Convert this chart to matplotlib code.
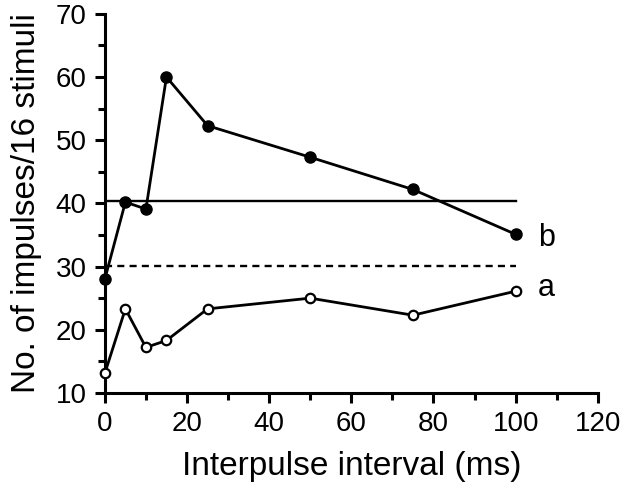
import matplotlib
matplotlib.use("Agg")
import matplotlib.pyplot as plt
from matplotlib.ticker import MultipleLocator

# interpulse interval (ms)
intervals = [0, 5, 10, 15, 25, 50, 75, 100]
# curve b (filled circles) and curve a (open circles)
series_b = [28, 40.2, 39.1, 60, 52.3, 47.3, 42.2, 35.1]
series_a = [13.1, 23.3, 17.2, 18.3, 23.3, 25, 22.3, 26.1]
# reference levels
level_solid = 40.3
level_dashed = 30.1
level_span = [0, 100]

plt.rcParams['font.family'] = ['Liberation Sans', 'DejaVu Sans']

fig = plt.figure(figsize=(6.24, 4.93), dpi=100)
ax = fig.add_axes([0.168, 0.203, 0.79, 0.769])

ax.plot(level_span, [level_solid, level_solid], color='black', lw=1.7)
ax.plot(level_span, [level_dashed, level_dashed], color='black', lw=1.7,
        dashes=(3, 2.2))

ax.plot(intervals, series_b, color='black', lw=2, marker='o', ms=8,
        mfc='black', mec='black', clip_on=False, zorder=3)
ax.plot(intervals, series_a, color='black', lw=2, marker='o', ms=6.8,
        mfc='white', mec='black', mew=1.6, clip_on=False, zorder=3)

ax.text(107.5, 34.5, 'b', fontsize=22, va='center', ha='center')
ax.text(107.5, 26.6, 'a', fontsize=22, va='center', ha='center')

ax.set_xlim(0, 120)
ax.set_ylim(10, 70)
ax.xaxis.set_major_locator(MultipleLocator(20))
ax.xaxis.set_minor_locator(MultipleLocator(10))
ax.yaxis.set_major_locator(MultipleLocator(10))
ax.yaxis.set_minor_locator(MultipleLocator(5))

for s in ['top', 'right']:
    ax.spines[s].set_visible(False)
for s in ['left', 'bottom']:
    ax.spines[s].set_linewidth(2.2)

ax.tick_params(which='major', direction='out', length=7, width=2.2,
               labelsize=20, pad=6)
ax.tick_params(which='minor', direction='out', length=5, width=2.2)

ax.set_xlabel('Interpulse interval (ms)', fontsize=24, labelpad=10)
ax.set_ylabel('No. of impulses/16 stimuli', fontsize=24, labelpad=10)

fig.savefig('out.png', dpi=100)
